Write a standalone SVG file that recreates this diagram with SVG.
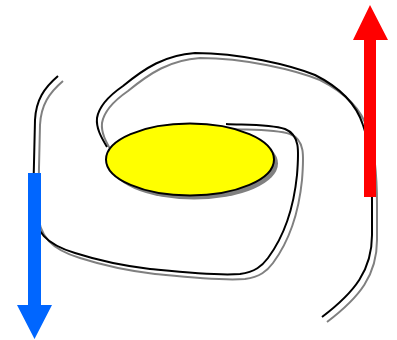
<svg xmlns="http://www.w3.org/2000/svg" width="397" height="340" viewBox="0 0 397 340">
<style>
.ln{fill:none;stroke-width:2;stroke-linecap:butt}
.blk{stroke:#000}
.gry{stroke:#808080}
</style>
<defs>
<path id="spiral" d="M58,76 C44,88 36,100 35,120 L33,205 C33,232 48,245 75,253 C100,261 125,266 150,269 C180,272 215,276 240,274 C255,272 262,266 268,258 C285,235 294,205 297,175 C299,150 300,135 285,129 C270,124 245,125 226,124 M107,147 C101,137 96,128 97,118 C99,106 110,95 123,86 C145,68 165,55 195,53 C240,53 290,65 315,75 C335,85 355,100 363,125 C370,145 372,170 372,200 L372,235 C372,270 355,292 322,317"/>
</defs>
<rect width="397" height="340" fill="#fff"/>
<g id="connectors">
<use href="#spiral" class="ln gry" transform="translate(5,5)"/>
<use href="#spiral" class="ln blk"/>
</g>
<g id="ellipse">
<ellipse cx="194" cy="163.5" rx="84" ry="36" fill="#808080"/>
<ellipse cx="190" cy="159.5" rx="84" ry="36" fill="#ffff00" stroke="#000" stroke-width="2"/>
</g>
<g id="blue-arrow">
<polygon points="28,173 41,173 41,305 52,305 34.5,339 17,305 28,305" fill="#0066ff"/>
</g>
<g id="red-arrow">
<polygon points="364,197 376,197 376,40 388,40 370,5 353,40 364,40" fill="#ff0000"/>
</g>
</svg>
